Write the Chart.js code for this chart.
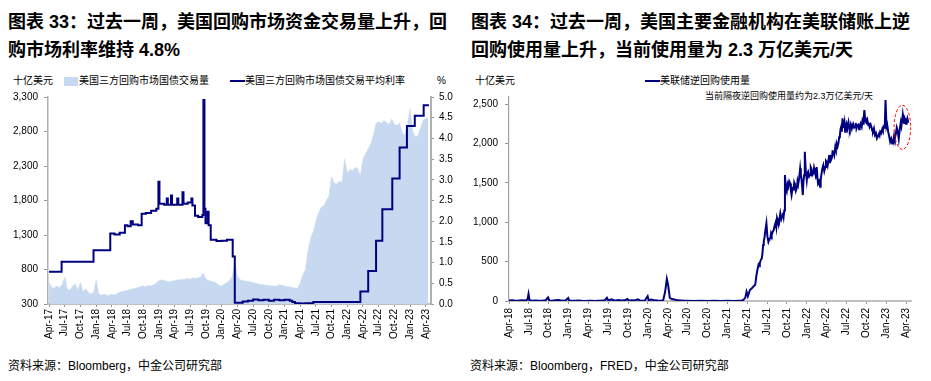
<!DOCTYPE html>
<html><head><meta charset="utf-8">
<script src="https://cdn.jsdelivr.net/npm/chart.js@4.4.0/dist/chart.umd.min.js"></script>
<style>
body{margin:0;background:#fff;width:931px;height:381px;position:relative;overflow:hidden;font-family:"Liberation Sans","Noto Sans CJK SC",sans-serif;color:#000}
.t{position:absolute;font-weight:bold;font-size:18px;line-height:28px;white-space:nowrap}
.s{position:absolute;font-size:12px;white-space:nowrap;line-height:14px}
.l{position:absolute;font-size:10px;white-space:nowrap;line-height:12px;font-family:"Liberation Sans","Noto Sans CJK SC",sans-serif}
canvas{position:absolute}
.sw{position:absolute}
</style></head><body>
<div class="t" style="left:8px;top:8px">图表 33：过去一周，美国回购市场资金交易量上升，回<br>购市场利率维持 4.8%</div>
<div class="t" style="left:471px;top:8px">图表 34：过去一周，美国主要金融机构在美联储账上逆<br>回购使用量上升，当前使用量为 2.3 万亿美元/天</div>

<div class="l" style="left:13px;top:75px">十亿美元</div>
<div class="sw" style="left:64px;top:77px;width:14px;height:9px;background:#c6d9f1"></div>
<div class="l" style="left:79px;top:75px">美国三方回购市场国债交易量</div>
<div class="sw" style="left:230px;top:80px;width:15px;height:2px;background:#000080"></div>
<div class="l" style="left:245px;top:75px">美国三方回购市场国债交易平均利率</div>
<div class="l" style="left:437px;top:75px">%</div>

<div class="l" style="left:475px;top:75px">十亿美元</div>
<div class="sw" style="left:645px;top:80px;width:15px;height:2px;background:#000080"></div>
<div class="l" style="left:660px;top:75px">美联储逆回购使用量</div>
<div class="l" style="left:705px;top:90px;font-size:9px">当前隔夜逆回购使用量约为2.3万亿美元/天</div>

<canvas id="c1" width="465" height="290" style="left:0;top:60px"></canvas>
<canvas id="c2" width="466" height="290" style="left:465px;top:60px"></canvas>

<div class="s" style="left:8px;top:359px">资料来源：Bloomberg，中金公司研究部</div>
<div class="s" style="left:470px;top:359px">资料来源：Bloomberg，FRED，中金公司研究部</div>

<script>
// ---------- Chart 1 data (x = months since Apr-17) ----------
const leftTickLabels = ['Apr-17','Jul-17','Oct-17','Jan-18','Apr-18','Jul-18','Oct-18','Jan-19','Apr-19','Jul-19','Oct-19','Jan-20','Apr-20','Jul-20','Oct-20','Jan-21','Apr-21','Jul-21','Oct-21','Jan-22','Apr-22','Jul-22','Oct-22','Jan-23','Apr-23'];
const leftTickMonths = [0,3,6,9,12,15,18,21,24,27,30,33,36,39,42,45,48,51,54,57,60,63,66,69,72];
const volStep = 0.5; // half-month samples
const volValues = [
610,540,530,560,540,580,690,520,500,560,
590,500,610,480,520,470,450,460,650,440,
430,440,430,425,440,430,450,470,480,490,
500,510,520,530,540,550,560,550,570,560,
580,600,640,650,640,630,620,630,640,650,
650,660,660,670,660,680,670,680,690,750,
660,640,630,620,600,570,560,590,610,640,
700,900,700,650,640,630,630,620,610,600,
590,580,580,570,570,560,560,560,580,570,
560,550,550,540,530,530,600,720,800,1080,
1250,1350,1500,1620,1700,1720,1800,1860,2150,2050,
2040,2080,2060,2400,2200,2250,2230,2280,2260,2150,
2400,2480,2550,2620,2750,2920,2940,2920,2960,2930,
2900,2980,2900,2890,2920,2780,2750,2900,3130,2800,
2720,2740,2850,2960,3000,2990];
const rateMonths = [0,2.4,8.5,11.7,12.5,13.5,14.5,15.0,15.6,16.0,17.0,17.7,18.5,19.5,20.5,20.9,21.1,22.0,22.5,22.7,23.3,23.5,24.5,24.7,25.5,25.7,26.5,27.2,27.4,27.9,28.5,29.3,29.5,29.7,29.9,30.3,30.5,30.9,31.5,32,33,34,34.7,35.1,35.5,36,37,38,39,40,41,42,43,44,45,46,46.5,47,48,49,50.5,59.5,61.0,62.5,63.7,65.6,67.0,68.4,69.9,71.6,72.6];
const rateValues = [0.78,1.02,1.30,1.70,1.68,1.72,1.90,1.88,2.00,1.92,1.90,2.18,2.20,2.25,2.30,2.95,2.42,2.40,2.55,2.40,2.62,2.40,2.55,2.40,2.70,2.42,2.45,2.55,2.38,2.13,2.10,2.15,4.93,2.30,1.95,2.23,1.90,1.55,1.55,1.52,1.53,1.55,1.55,1.15,0.03,0.03,0.06,0.08,0.11,0.09,0.10,0.08,0.10,0.09,0.10,0.08,0.05,0.02,0.01,0.02,0.05,0.30,0.80,1.53,2.29,3.03,3.78,4.30,4.55,4.80,4.80];
const volTicks = [300,800,1300,1800,2300,2800,3300];
const rateTicks = [0,0.5,1,1.5,2,2.5,3,3.5,4,4.5,5];

// ---------- Chart 2 data (x = months since Apr-18, [month, value]) ----------
const rightTickLabels = ['Apr-18','Jul-18','Oct-18','Jan-19','Apr-19','Jul-19','Oct-19','Jan-20','Apr-20','Jul-20','Oct-20','Jan-21','Apr-21','Jul-21','Oct-21','Jan-22','Apr-22','Jul-22','Oct-22','Jan-23','Apr-23'];
const rightTickMonths = [0,3,6,9,12,15,18,21,24,27,30,33,36,39,42,45,48,51,54,57,60];
const rrpBefore2021 = [[0,5],[0.5,8],[1,4],[1.5,6],[2,10],[2.5,5],[2.8,20],[2.95,90],[3.1,10],[3.5,3],[4,6],[4.5,2],[5,4],[5.5,8],[5.9,45],[6.1,5],[6.5,3],[7,10],[7.5,14],[8,5],[8.5,4],[8.95,38],[9.1,6],[9.5,3],[10,2],[10.5,5],[11,2],[11.5,1],[12,2],[12.5,3],[13,1],[13.5,4],[14,5],[14.5,10],[14.8,40],[15,8],[15.5,20],[16,3],[16.5,12],[17,5],[17.5,8],[17.9,25],[18.1,4],[18.5,10],[19,6],[19.5,22],[19.8,5],[20.5,4],[20.95,60],[21.1,10],[21.5,18],[22,8],[22.5,5],[23,4],[23.3,10],[23.6,120],[23.85,280],[24.05,200],[24.3,40],[24.6,25],[25,20],[25.5,8],[26,6],[26.5,3],[27,2],[28,1],[29,2],[30,1],[31,3],[32,1],[33,2],[34,1],[35,2]];
const rrpSince2021 = [[35.4,13],[35.7,40],[35.9,118],[36.1,60],[36.4,140],[36.7,161],[37.0,190],[37.2,203],[37.4,330],[37.55,400],[37.7,457],[37.8,440],[37.9,480],[38.05,520],[38.2,542],[38.3,600],[38.4,710],[38.5,760],[38.6,800],[38.75,900],[38.9,986],[39.05,820],[39.2,752],[39.35,790],[39.5,800],[39.6,860],[39.7,837],[39.85,880],[40.0,900],[40.15,960],[40.3,1000],[40.4,940],[40.5,1050],[40.65,1000],[40.8,980],[40.9,1060],[41.0,1113],[41.15,1040],[41.3,1080],[41.4,1120],[41.5,1070],[41.6,1150],[41.7,1599],[41.85,1420],[41.97,1387],[42.1,1480],[42.2,1450],[42.35,1520],[42.5,1493],[42.6,1400],[42.7,1345],[42.85,1430],[43.0,1420],[43.1,1500],[43.2,1472],[43.35,1400],[43.5,1440],[43.6,1520],[43.7,1480],[43.85,1560],[44.0,1684],[44.1,1600],[44.2,1550],[44.3,1450],[44.4,1345],[44.5,1520],[44.6,1600],[44.7,1895],[44.85,1650],[45.0,1535],[45.1,1620],[45.2,1640],[45.35,1580],[45.5,1600],[45.6,1700],[45.7,1680],[45.85,1600],[46.0,1620],[46.1,1690],[46.2,1650],[46.35,1600],[46.5,1700],[46.6,1580],[46.7,1493],[46.85,1520],[47.0,1450],[47.1,1530],[47.2,1600],[47.35,1680],[47.5,1726],[47.65,1650],[47.8,1700],[47.9,1780],[48.0,1768],[48.15,1720],[48.3,1800],[48.4,1760],[48.5,1853],[48.65,1790],[48.8,1820],[48.9,1900],[49.0,1895],[49.15,1850],[49.3,1950],[49.4,1920],[49.5,2001],[49.65,1960],[49.8,2015],[49.9,2080],[50.0,2100],[50.1,2180],[50.2,2212],[50.3,2150],[50.4,2318],[50.5,2250],[50.6,2200],[50.7,2260],[50.8,2149],[50.9,2220],[51.0,2250],[51.15,2190],[51.3,2265],[51.4,2210],[51.5,2180],[51.65,2240],[51.8,2190],[51.9,2230],[52.0,2250],[52.15,2200],[52.3,2212],[52.4,2260],[52.5,2190],[52.65,2230],[52.8,2240],[52.9,2180],[53.0,2200],[53.15,2250],[53.3,2212],[53.4,2280],[53.5,2250],[53.6,2320],[53.7,2424],[53.8,2330],[53.9,2280],[54.0,2265],[54.15,2300],[54.3,2230],[54.4,2260],[54.5,2212],[54.65,2240],[54.8,2200],[54.9,2160],[55.0,2150],[55.15,2190],[55.3,2107],[55.45,2130],[55.6,2065],[55.75,2090],[55.9,2120],[56.0,2100],[56.1,2150],[56.25,2130],[56.4,2180],[56.5,2160],[56.6,2212],[56.7,2200],[56.8,2250],[56.9,2551],[57.05,2212],[57.15,2240],[57.3,2150],[57.45,2090],[57.6,2022],[57.75,2060],[57.9,2000],[58.0,2040],[58.1,2050],[58.2,2100],[58.3,2065],[58.45,2120],[58.6,2200],[58.75,2150],[58.9,2060],[59.05,2180],[59.2,2265],[59.3,2220],[59.5,2361],[59.6,2280],[59.7,2260],[59.8,2320],[59.9,2300],[60.0,2250],[60.1,2290],[60.2,2320],[60.35,2265]];
const rrpTicks = [0,500,1000,1500,2000,2500];
const ellipseCenter = {x: 59.45, y: 2205};
const ellipseRadius = {x: 1.25, y: 280};

Chart.defaults.font.family = "'Liberation Sans', Arial, sans-serif";
Chart.defaults.font.size = 10;
Chart.defaults.color = '#000';

const fmt = v => v.toLocaleString('en-US');

function xAxis(labels, months, min, max, axisColor, axisWidth, height, pad) {
  return {
    type: 'linear', min: min, max: max,
    afterBuildTicks: s => { s.ticks = months.map(v => ({value: v})); },
    afterFit: s => { s.height = height; },
    ticks: {autoSkip: false, minRotation: 90, maxRotation: 90, padding: pad,
      callback: (v, i) => labels[i], font: {size: 10}, color: '#000'},
    grid: {display: true, drawOnChartArea: false, drawTicks: true, tickLength: 3, color: '#999'},
    border: {display: true, color: axisColor, width: axisWidth}
  };
}

new Chart(document.getElementById('c1'), {
  type: 'line',
  data: {datasets: [
    {label: '美国三方回购市场国债交易平均利率', yAxisID: 'y1', order: 1,
     data: rateMonths.map((m, i) => ({x: m, y: rateValues[i]})),
     borderColor: '#000080', borderWidth: 2, pointRadius: 0, stepped: true, fill: false},
    {label: '美国三方回购市场国债交易量', yAxisID: 'y', order: 2,
     data: volValues.map((v, i) => ({x: i * volStep, y: v})),
     borderColor: '#c6d9f1', borderWidth: 0.5, backgroundColor: '#c6d9f1', pointRadius: 0, fill: 'start', tension: 0}
  ]},
  options: {
    responsive: false, animation: false, devicePixelRatio: 1,
    layout: {padding: {top: 37, left: 0, right: 0, bottom: 0}},
    plugins: {legend: {display: false}, tooltip: {enabled: false}},
    scales: {
      x: xAxis(leftTickLabels, leftTickMonths, -0.2, 73, '#bfbfbf', 2, 46, 2),
      y: {position: 'left', min: 300, max: 3300,
        afterBuildTicks: s => { s.ticks = volTicks.map(v => ({value: v})); },
        afterFit: s => { s.width = 48; },
        ticks: {padding: 6, callback: v => fmt(v)},
        grid: {display: true, drawOnChartArea: false, tickLength: 4, color: '#999'},
        border: {color: '#b0b0b0', width: 1.5}},
      y1: {position: 'right', min: 0, max: 5,
        afterBuildTicks: s => { s.ticks = rateTicks.map(v => ({value: v})); },
        afterFit: s => { s.width = 34; },
        ticks: {padding: 5, callback: v => v.toFixed(1)},
        grid: {display: true, drawOnChartArea: false, tickLength: 3, color: '#999'},
        border: {color: '#b0b0b0', width: 2}}
    }
  }
});

const ellipsePlugin = {
  id: 'ell',
  afterDatasetsDraw(chart) {
    const xs = chart.scales.x, ys = chart.scales.y, ctx = chart.ctx;
    const cx = xs.getPixelForValue(ellipseCenter.x), cy = ys.getPixelForValue(ellipseCenter.y);
    const rx = Math.abs(xs.getPixelForValue(ellipseCenter.x + ellipseRadius.x) - cx);
    const ry = Math.abs(ys.getPixelForValue(ellipseCenter.y + ellipseRadius.y) - cy);
    ctx.save();
    ctx.strokeStyle = '#ff0000'; ctx.lineWidth = 1; ctx.setLineDash([3, 2]);
    ctx.beginPath(); ctx.ellipse(cx, cy, rx, ry, 0, 0, Math.PI * 2); ctx.stroke();
    ctx.restore();
  }
};

const rrpSeries = rrpBefore2021.concat(rrpSince2021);

new Chart(document.getElementById('c2'), {
  type: 'line',
  data: {datasets: [
    {label: '美联储逆回购使用量',
     data: rrpSeries.map(p => ({x: p[0], y: p[1]})),
     borderColor: '#000080', borderWidth: 2, pointRadius: 0, fill: false, tension: 0}
  ]},
  options: {
    responsive: false, animation: false, devicePixelRatio: 1,
    layout: {padding: {top: 37, left: 0, right: 20, bottom: 0}},
    plugins: {legend: {display: false}, tooltip: {enabled: false}},
    scales: {
      x: xAxis(rightTickLabels, rightTickMonths, 0, 60.75, '#c0c0c0', 2, 49, 4),
      y: {position: 'left', min: 0, max: 2590,
        afterBuildTicks: s => { s.ticks = rrpTicks.map(v => ({value: v})); },
        afterFit: s => { s.width = 44; },
        ticks: {padding: 7, callback: v => fmt(v)},
        grid: {display: true, drawOnChartArea: false, tickLength: 4, color: '#999'},
        border: {color: '#a0a0a0', width: 1.2}}
    }
  },
  plugins: [ellipsePlugin]
});
</script>
</body></html>
